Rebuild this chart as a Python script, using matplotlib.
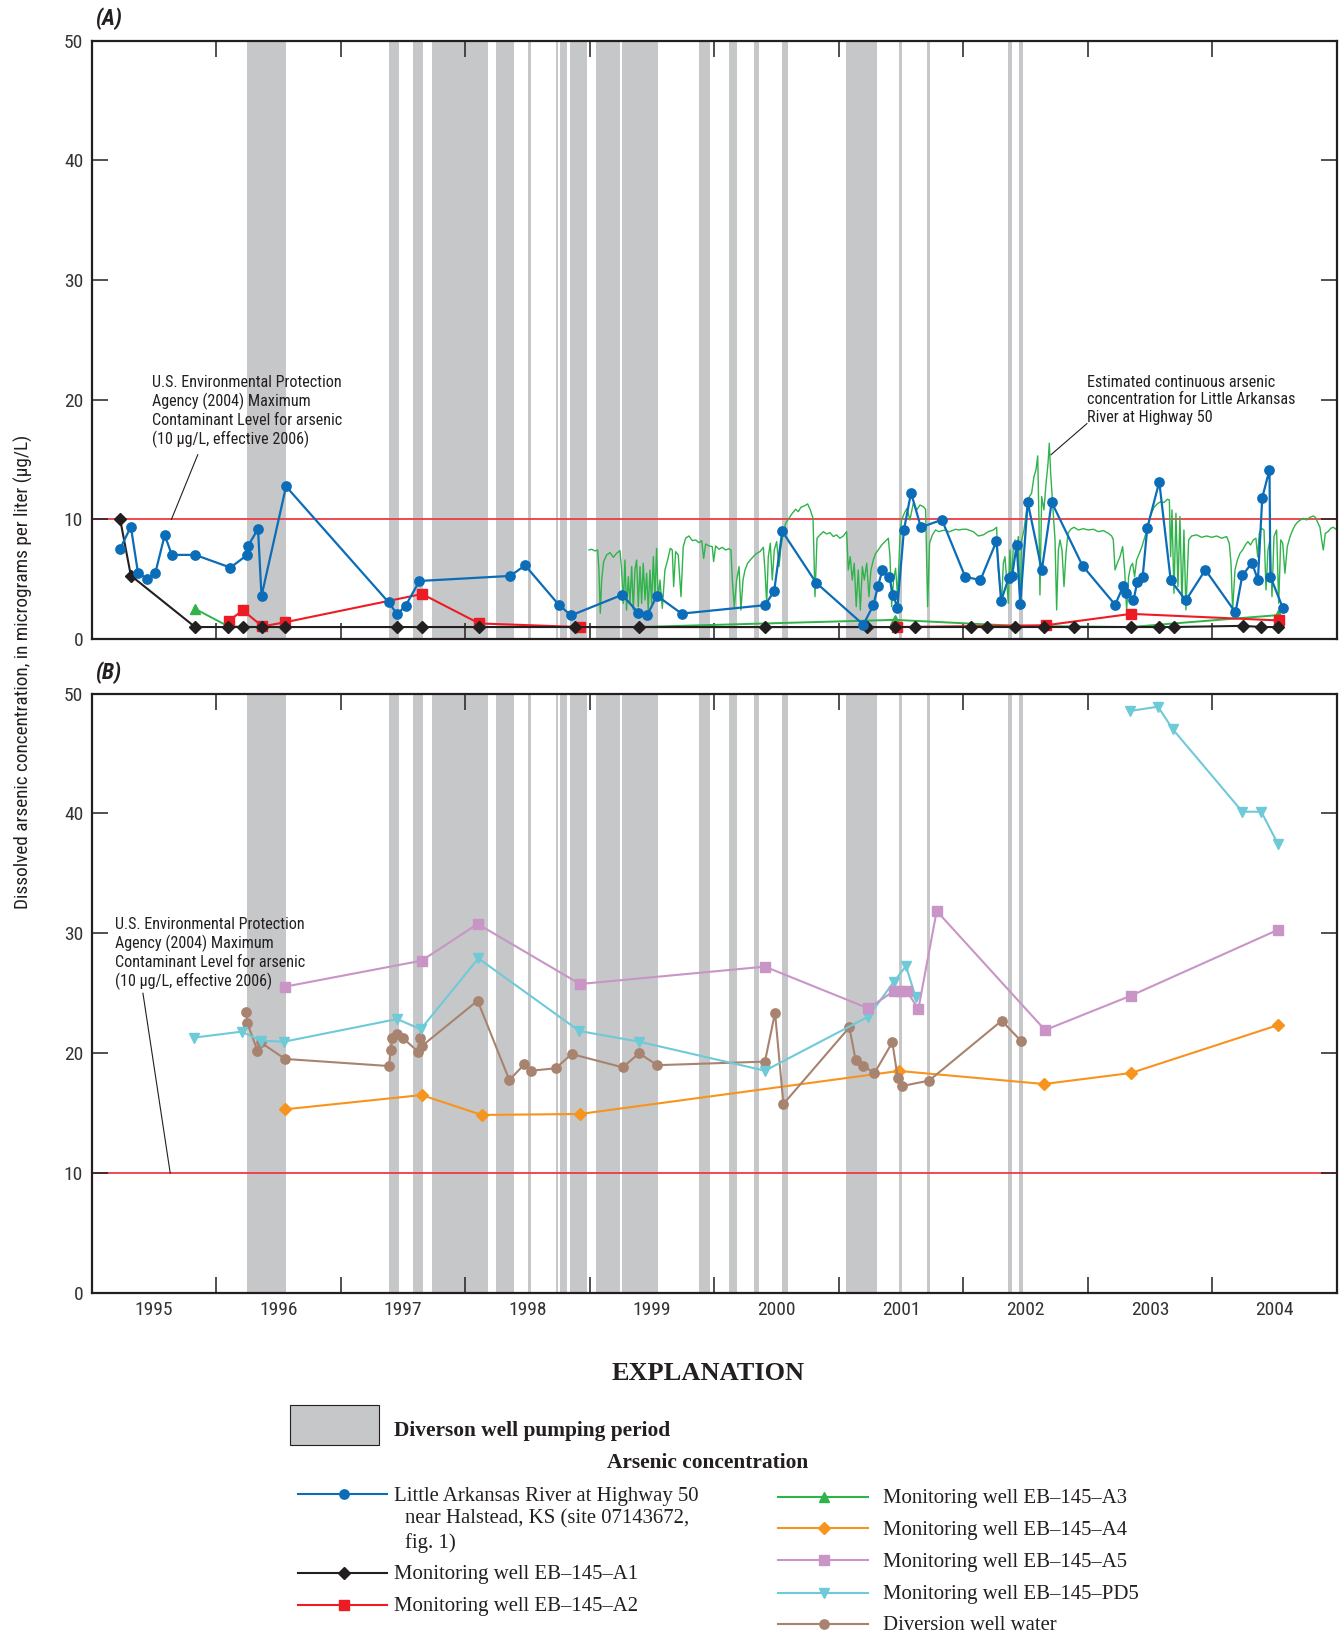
import matplotlib
matplotlib.use("Agg")
import numpy as np
import matplotlib.pyplot as plt
from matplotlib import font_manager
from matplotlib.patches import Rectangle
from matplotlib.lines import Line2D

_installed = {f.name for f in font_manager.fontManager.ttflist}
_narrow = next((n for n in ["Liberation Sans Narrow", "Roboto Condensed", "Roboto"]
                if n in _installed), "DejaVu Sans")
COND = [_narrow, "DejaVu Sans"]
SERIF = ["Liberation Serif", "DejaVu Serif"]
INK = "#231f20"
BAND = "#c6c7c9"
MCL_RED = "#ee3b45"

C_RIVER = "#0b6cb8"
C_A1 = "#231f20"
C_A2 = "#ed1c24"
C_A3 = "#2fb34a"
C_A4 = "#f7941d"
C_A5 = "#c995c6"
C_PD5 = "#6fcad8"
C_DIV = "#a8836f"
C_EST = "#2fb34a"

# diversion well pumping periods, decimal years
pump_start = [1996.246, 1997.390, 1997.585, 1997.730, 1998.245, 1998.505, 1998.729,
              1998.762, 1998.842, 1999.050, 1999.260, 1999.535, 1999.880, 2000.115,
              2000.320, 2000.544, 2001.060, 2001.482, 2001.707, 2002.359, 2002.448]
pump_end = [1996.560, 1997.465, 1997.665, 1998.185, 1998.395, 1998.529, 1998.743,
            1998.818, 1998.976, 1999.243, 1999.530, 1999.545, 1999.968, 2000.183,
            2000.357, 2000.594, 2001.309, 2001.510, 2001.735, 2002.392, 2002.482]

# Little Arkansas River at Highway 50, discrete samples
river_t = [1995.230, 1995.316, 1995.373, 1995.449, 1995.513, 1995.588, 1995.645, 1995.832,
           1996.115, 1996.251, 1996.258, 1996.337, 1996.365, 1996.562, 1997.386, 1997.454,
           1997.522, 1997.633, 1998.360, 1998.482, 1998.750, 1998.850, 1999.262, 1999.388,
           1999.462, 1999.540, 1999.738, 2000.408, 2000.481, 2000.546, 2000.818, 2001.197,
           2001.277, 2001.315, 2001.350, 2001.405, 2001.436, 2001.470, 2001.523, 2001.580,
           2001.659, 2001.828, 2002.015, 2002.137, 2002.266, 2002.303, 2002.363, 2002.392,
           2002.428, 2002.457, 2002.517, 2002.630, 2002.709, 2002.957, 2003.219, 2003.285,
           2003.308, 2003.366, 2003.397, 2003.440, 2003.477, 2003.573, 2003.665, 2003.786,
           2003.943, 2004.185, 2004.240, 2004.318, 2004.365, 2004.400, 2004.458, 2004.465,
           2004.565]
river_v = [7.55, 9.38, 5.55, 4.99, 5.55, 8.68, 7.03, 7.03,
           5.97, 7.03, 7.80, 9.20, 3.58, 12.75, 3.06, 2.07,
           2.78, 4.85, 5.27, 6.15, 2.88, 1.97, 3.70, 2.20,
           2.00, 3.62, 2.12, 2.83, 4.00, 9.00, 4.70, 1.20,
           2.82, 4.42, 5.76, 5.16, 3.70, 2.60, 9.12, 12.23,
           9.34, 9.96, 5.20, 4.92, 8.18, 3.18, 5.08, 5.30,
           7.88, 2.96, 11.43, 5.75, 11.43, 6.12, 2.86, 4.46,
           3.88, 3.22, 4.80, 5.22, 9.30, 13.13, 4.90, 3.22,
           5.78, 2.22, 5.32, 6.36, 4.93, 11.82, 14.14, 5.22,
           2.60]

# estimated continuous concentration, Little Arkansas River at Highway 50
est_t = [1998.994, 1999.016, 1999.042, 1999.064, 1999.074, 1999.085, 1999.096, 1999.112,
         1999.136, 1999.163, 1999.190, 1999.216, 1999.243, 1999.256, 1999.270, 1999.283,
         1999.296, 1999.310, 1999.323, 1999.337, 1999.350, 1999.363, 1999.377, 1999.390,
         1999.404, 1999.417, 1999.430, 1999.444, 1999.457, 1999.470, 1999.484, 1999.497,
         1999.511, 1999.524, 1999.537, 1999.550, 1999.564, 1999.583, 1999.604, 1999.626,
         1999.647, 1999.663, 1999.674, 1999.690, 1999.711, 1999.733, 1999.751, 1999.770,
         1999.797, 1999.824, 1999.851, 1999.877, 1999.899, 1999.915, 1999.931, 1999.958,
         1999.984, 1999.995, 2000.011, 2000.038, 2000.065, 2000.091, 2000.118, 2000.134,
         2000.145, 2000.161, 2000.180, 2000.199, 2000.214, 2000.231, 2000.247, 2000.268,
         2000.289, 2000.313, 2000.340, 2000.367, 2000.394, 2000.407, 2000.421, 2000.434,
         2000.450, 2000.466, 2000.482, 2000.501, 2000.520, 2000.536, 2000.554, 2000.573,
         2000.600, 2000.627, 2000.653, 2000.675, 2000.696, 2000.723, 2000.750, 2000.771,
         2000.793, 2000.809, 2000.825, 2000.849, 2000.876, 2000.902, 2000.929, 2000.956,
         2000.982, 2001.009, 2001.036, 2001.063, 2001.076, 2001.092, 2001.108, 2001.124,
         2001.140, 2001.156, 2001.173, 2001.189, 2001.205, 2001.224, 2001.242, 2001.258,
         2001.277, 2001.296, 2001.317, 2001.344, 2001.371, 2001.398, 2001.411, 2001.424,
         2001.440, 2001.456, 2001.472, 2001.491, 2001.504, 2001.526, 2001.547, 2001.571,
         2001.598, 2001.625, 2001.652, 2001.678, 2001.697, 2001.713, 2001.729, 2001.751,
         2001.777, 2001.804, 2001.831, 2001.858, 2001.885, 2001.911, 2001.938, 2001.965,
         2001.992, 2002.027, 2002.080, 2002.120, 2002.160, 2002.200, 2002.241, 2002.267,
         2002.281, 2002.294, 2002.308, 2002.321, 2002.334, 2002.348, 2002.361, 2002.374,
         2002.388, 2002.401, 2002.415, 2002.428, 2002.441, 2002.455, 2002.468, 2002.487,
         2002.508, 2002.530, 2002.548, 2002.567, 2002.583, 2002.597, 2002.607, 2002.615,
         2002.629, 2002.647, 2002.664, 2002.680, 2002.690, 2002.701, 2002.717, 2002.736,
         2002.749, 2002.763, 2002.776, 2002.792, 2002.808, 2002.824, 2002.840, 2002.862,
         2002.888, 2002.923, 2002.963, 2003.003, 2003.044, 2003.084, 2003.124, 2003.164,
         2003.191, 2003.204, 2003.218, 2003.236, 2003.258, 2003.279, 2003.295, 2003.311,
         2003.327, 2003.343, 2003.359, 2003.375, 2003.391, 2003.413, 2003.434, 2003.458,
         2003.480, 2003.504, 2003.531, 2003.557, 2003.584, 2003.611, 2003.638, 2003.654,
         2003.664, 2003.675, 2003.691, 2003.707, 2003.723, 2003.739, 2003.755, 2003.771,
         2003.787, 2003.809, 2003.833, 2003.873, 2003.913, 2003.954, 2003.994, 2004.034,
         2004.074, 2004.114, 2004.135, 2004.149, 2004.162, 2004.181, 2004.200, 2004.221,
         2004.242, 2004.264, 2004.285, 2004.306, 2004.328, 2004.349, 2004.363, 2004.376,
         2004.395, 2004.414, 2004.430, 2004.446, 2004.462, 2004.478, 2004.494, 2004.515,
         2004.532, 2004.548, 2004.564, 2004.582, 2004.601, 2004.623, 2004.644, 2004.665,
         2004.687, 2004.709, 2004.730, 2004.756, 2004.783, 2004.810, 2004.826, 2004.842,
         2004.863, 2004.877, 2004.890, 2004.906, 2004.928, 2004.949, 2004.970, 2004.992]
est_v = [7.44, 7.50, 7.36, 7.44, 5.77, 2.15, 4.93, 6.47,
         7.02, 7.22, 6.83, 7.16, 7.39, 5.77, 2.98, 6.60,
         2.42, 5.21, 2.98, 6.05, 2.42, 5.77, 6.60, 2.70,
         6.05, 2.98, 6.33, 3.26, 5.49, 2.42, 5.77, 2.98,
         6.88, 3.54, 7.58, 3.26, 4.93, 2.56, 5.77, 6.60,
         7.58, 7.44, 4.38, 7.30, 7.02, 3.54, 7.72, 8.42,
         8.61, 8.22, 8.28, 8.05, 8.22, 6.74, 7.94, 7.78,
         7.72, 6.47, 7.78, 7.50, 7.66, 7.44, 7.55, 7.44,
         4.93, 2.70, 4.93, 6.05, 2.42, 4.93, 5.77, 6.33,
         6.60, 6.88, 7.16, 7.30, 7.66, 5.77, 2.98, 6.88,
         8.00, 4.93, 7.44, 8.14, 6.05, 7.72, 8.84, 9.67,
         10.09, 10.51, 10.84, 10.65, 11.01, 11.12, 11.29, 10.79,
         10.09, 3.54, 8.42, 8.70, 8.97, 8.78, 8.89, 8.56,
         8.70, 8.42, 8.61, 8.97, 5.77, 6.88, 4.93, 6.33,
         2.70, 5.77, 2.42, 6.05, 4.93, 6.33, 3.54, 5.77,
         6.60, 7.16, 7.44, 7.86, 8.14, 8.42, 6.88, 2.70,
         4.93, 5.91, 3.54, 8.56, 9.95, 10.51, 10.92, 9.95,
         11.34, 10.79, 11.20, 11.06, 10.84, 2.70, 8.00, 8.70,
         9.11, 8.97, 9.06, 9.11, 8.95, 9.06, 9.17, 9.11,
         9.17, 9.17, 8.97, 8.61, 8.70, 8.97, 9.11, 9.34,
         5.77, 4.38, 3.26, 6.33, 6.88, 4.93, 2.98, 7.44,
         4.65, 7.72, 8.28, 6.88, 8.56, 2.70, 8.28, 9.11,
         10.79, 11.90, 12.18, 13.57, 14.13, 15.30, 9.95, 3.68,
         11.90, 10.79, 13.01, 14.69, 16.36, 13.85, 11.34, 8.28,
         2.43, 7.44, 8.28, 7.44, 4.38, 7.16, 8.83, 9.17,
         9.34, 9.11, 9.22, 9.11, 9.17, 8.97, 9.06, 8.83,
         8.61, 8.28, 5.77, 6.33, 6.88, 7.72, 5.77, 2.43,
         5.21, 6.05, 6.33, 5.21, 6.60, 7.16, 7.72, 8.56,
         9.39, 10.37, 11.01, 11.29, 11.48, 11.40, 11.68, 11.62,
         6.88, 10.79, 3.82, 10.51, 4.38, 10.23, 2.98, 9.11,
         2.43, 8.28, 8.61, 8.70, 8.50, 8.61, 8.50, 8.61,
         8.42, 8.56, 8.00, 6.33, 2.43, 5.77, 6.60, 7.16,
         7.44, 7.86, 8.14, 7.86, 8.28, 8.42, 6.88, 8.83,
         9.25, 9.11, 4.10, 7.44, 8.28, 3.54, 8.56, 9.11,
         2.98, 8.28, 8.00, 5.49, 7.72, 8.56, 9.11, 9.53,
         9.81, 9.95, 10.09, 9.95, 10.17, 10.28, 10.17, 9.81,
         9.34, 8.28, 7.44, 8.83, 8.97, 9.25, 9.34, 9.17]

# monitoring well EB-145-A1
a1_t = [1995.230, 1995.316, 1995.832, 1996.095, 1996.215, 1996.365, 1996.550, 1997.455,
        1997.650, 1998.110, 1998.885, 1999.393, 2000.411, 2001.230, 2001.450, 2001.612,
        2002.058, 2002.190, 2002.418, 2002.645, 2002.885, 2003.345, 2003.568, 2003.690,
        2004.248, 2004.393, 2004.530]
a1_v = [10.0, 5.3, 1.0, 1.0, 1.0, 1.0, 1.0, 1.0,
        1.0, 1.0, 1.0, 1.0, 1.0, 1.0, 1.0, 1.0,
        1.0, 1.0, 1.0, 1.0, 1.0, 1.0, 1.0, 1.0,
        1.1, 1.0, 1.0]

# monitoring well EB-145-A2
a2_t = [1996.100, 1996.215, 1996.372, 1996.555, 1997.654, 1998.113, 1998.926, 2001.470,
        2002.664, 2003.347, 2004.533]
a2_v = [1.5, 2.4, 1.05, 1.4, 3.76, 1.3, 1.0, 1.0, 1.15, 2.1, 1.55]

# monitoring well EB-145-A3
a3_t = [1995.835, 1996.100, 1996.372, 1996.555, 1997.457, 1997.654, 1998.113, 1998.890,
        1999.395, 2000.412, 2001.450, 2002.420, 2003.347, 2003.690, 2004.530]
a3_v = [2.5, 1.05, 1.0, 1.0, 1.0, 1.0, 1.0, 1.0,
        1.0, 1.3, 1.6, 1.1, 1.0, 1.3, 2.0]
a3_shown = [0, 10, 14]  # samples whose symbol is not covered by other wells

# monitoring well EB-145-A4
a4_t = [1996.554, 1997.651, 1998.133, 1998.922, 2001.483, 2002.648, 2003.346, 2004.528]
a4_v = [15.32, 16.51, 14.85, 14.93, 18.52, 17.43, 18.35, 22.35]

# monitoring well EB-145-A5
a5_t = [1996.554, 1997.651, 1998.100, 1998.922, 2000.407, 2001.237, 2001.443, 2001.491,
        2001.545, 2001.639, 2001.786, 2002.656, 2003.346, 2004.528]
a5_v = [25.55, 27.72, 30.78, 25.77, 27.22, 23.74, 25.19, 25.19,
        25.19, 23.69, 31.86, 21.93, 24.80, 30.30]

# monitoring well EB-145-PD5 (no samples between late 2001 and 2003)
pd5_t = [1995.823, 1996.206, 1996.360, 1996.546, 1997.455, 1997.643, 1998.106, 1998.917,
         1999.398, 2000.407, 2001.237, 2001.443, 2001.540, 2001.617, np.nan, 2003.336,
         2003.563, 2003.683, 2004.240, 2004.392, 2004.526]
pd5_v = [21.30, 21.80, 21.04, 20.96, 22.85, 21.99, 27.91, 21.85,
         20.96, 18.54, 23.05, 25.97, 27.27, 24.66, np.nan, 48.54,
         48.90, 47.00, 40.14, 40.14, 37.45]

# diversion well water
div_t = [1996.244, 1996.250, 1996.332, 1996.358, 1996.554, 1997.388, 1997.402, 1997.415,
         1997.453, 1997.498, 1997.621, 1997.637, 1997.656, 1998.100, 1998.355, 1998.475,
         1998.526, 1998.727, 1998.855, 1999.265, 1999.396, 1999.543, 2000.407, 2000.488,
         2000.555, 2001.085, 2001.135, 2001.197, 2001.285, 2001.430, 2001.473, 2001.505,
         2001.724, 2002.308, 2002.463]
div_v = [23.44, 22.55, 20.21, 20.90, 19.52, 18.93, 20.27, 21.24,
         21.60, 21.29, 20.13, 21.24, 20.63, 24.38, 17.76, 19.07,
         18.54, 18.74, 19.93, 18.82, 19.99, 19.00, 19.30, 23.38,
         15.76, 22.16, 19.43, 18.96, 18.32, 20.91, 17.96, 17.26,
         17.71, 22.71, 21.02]

years = list(range(1995, 2005))
MCL = 10.0

mcl_note = ("U.S. Environmental Protection\nAgency (2004) Maximum\n"
            "Contaminant Level for arsenic\n(10 \u00b5g/L, effective 2006)")

W, H = 1343, 1638
fig = plt.figure(figsize=(W / 100, H / 100), dpi=100)

TICK_FS = 14
NOTE_FS = 11.6
NOTE_LS = 1.23


def frame(ax, show_xlabels):
    ax.set_xlim(1995, 2005)
    ax.set_ylim(0, 50)
    for s, e in zip(pump_start, pump_end):
        ax.axvspan(s, e, color=BAND, lw=0, zorder=0)
    ax.axhline(MCL, color=MCL_RED, lw=1.3, zorder=1)
    for sp in ax.spines.values():
        sp.set_color(INK)
        sp.set_linewidth(1.6)
    ax.set_xticks(range(1996, 2005))
    ax.set_xticklabels([])
    ax.set_xticks([y + 0.5 for y in years], minor=True)
    if show_xlabels:
        ax.set_xticklabels([str(y) for y in years], minor=True)
    else:
        ax.set_xticklabels([], minor=True)
    ax.set_yticks(range(0, 51, 10))
    ax.set_yticklabels([str(v) for v in range(0, 51, 10)])
    ax.tick_params(which="major", direction="in", length=11.5, width=1.1,
                   top=True, right=True, color=INK, labelcolor="#333333",
                   labelsize=TICK_FS, pad=6)
    ax.tick_params(which="minor", length=0, pad=6, labelsize=TICK_FS,
                   labelcolor="#333333")
    for lab in ax.get_xticklabels(minor=True) + ax.get_yticklabels():
        lab.set_family(COND)


def series(ax, t, v, color, marker, ms, lw=1.5, z=4, every=None):
    ax.plot(t, v, color=color, lw=lw, marker=marker, ms=ms, mec=color, mfc=color,
            zorder=z, clip_on=False, markevery=every)


# panel A: river and shallow monitoring wells
ax_a = fig.add_axes([91.5 / W, 1 - 639 / H, (1337 - 91.5) / W, (639 - 40.7) / H])
frame(ax_a, False)
ax_a.plot(est_t, est_v, color=C_EST, lw=1.0, zorder=2)
series(ax_a, a3_t, a3_v, C_A3, "^", 6.5, lw=1.4, z=3, every=a3_shown)
series(ax_a, a2_t, a2_v, C_A2, "s", 6.8, lw=1.5, z=4)
series(ax_a, a1_t, a1_v, C_A1, "D", 6.4, lw=1.5, z=5)
series(ax_a, river_t, river_v, C_RIVER, "o", 6.7, lw=1.6, z=6)

ax_a.text(1995.488, 22.1, mcl_note, family=COND, fontsize=NOTE_FS, color=INK,
          va="top", ha="left", linespacing=NOTE_LS, zorder=7)
ax_a.plot([1995.853, 1995.642], [15.4, MCL], color=INK, lw=0.8, zorder=7)
ax_a.text(2002.995, 22.1,
          "Estimated continuous arsenic\nconcentration for Little Arkansas\nRiver at Highway 50",
          family=COND, fontsize=NOTE_FS, color=INK, va="top", ha="left",
          linespacing=NOTE_LS, zorder=7)
ax_a.plot([2002.992, 2002.704], [18.0, 15.4], color=INK, lw=0.8, zorder=7)

# panel B: deeper wells and diversion well water
ax_b = fig.add_axes([91.5 / W, 1 - 1293 / H, (1337 - 91.5) / W, (1293 - 693.5) / H])
frame(ax_b, True)
series(ax_b, a4_t, a4_v, C_A4, "D", 6.4, lw=1.5, z=3)
series(ax_b, div_t, div_v, C_DIV, "o", 6.7, lw=1.5, z=4)
series(ax_b, pd5_t, pd5_v, C_PD5, "v", 7.2, lw=1.5, z=5)
series(ax_b, a5_t, a5_v, C_A5, "s", 7.0, lw=1.5, z=6)

ax_b.text(1995.19, 31.4, mcl_note, family=COND, fontsize=NOTE_FS, color=INK,
          va="top", ha="left", linespacing=NOTE_LS, zorder=7)
ax_b.plot([1995.413, 1995.632], [25.0, MCL], color=INK, lw=0.8, zorder=7)

fig.text(96 / W, 1 - 19 / H, "(A)", family=COND, fontsize=16, fontweight="bold",
         style="italic", color=INK, va="center", ha="left")
fig.text(96 / W, 1 - 673 / H, "(B)", family=COND, fontsize=16, fontweight="bold",
         style="italic", color=INK, va="center", ha="left")
fig.text(23 / W, 1 - 672 / H,
         "Dissolved arsenic concentration, in micrograms per liter (\u00b5g/L)",
         family=COND, fontsize=13.9, color=INK, rotation=90, va="center", ha="center")

# explanation block, laid out in pixel units
ax_k = fig.add_axes([0, 0, 1, 1 - 1330 / H])
ax_k.set_xlim(0, W)
ax_k.set_ylim(H, 1330)
ax_k.axis("off")

KEY_BOLD = 15.4
KEY_FS = 14.95
ax_k.text(708, 1373, "EXPLANATION", family=SERIF, fontsize=19, fontweight="bold",
          color=INK, ha="center", va="center")
ax_k.add_patch(Rectangle((290, 1405), 89, 40, facecolor=BAND, edgecolor=INK, lw=0.8))
ax_k.text(394, 1431, "Diverson well pumping period", family=SERIF, fontsize=KEY_BOLD,
          fontweight="bold", color=INK, ha="left", va="center")
ax_k.text(708, 1463, "Arsenic concentration", family=SERIF, fontsize=KEY_BOLD,
          fontweight="bold", color=INK, ha="center", va="center")

key_left = [(1494, C_RIVER, "o", 6.7, "Little Arkansas River at Highway 50"),
            (1573, C_A1, "D", 6.4, "Monitoring well EB\u2013145\u2013A1"),
            (1605, C_A2, "s", 6.8, "Monitoring well EB\u2013145\u2013A2")]
for y, c, m, ms, txt in key_left:
    ax_k.add_line(Line2D([298, 387], [y, y], color=c, lw=1.5))
    ax_k.add_line(Line2D([344], [y], color=c, marker=m, ms=ms, mec=c, mfc=c))
    ax_k.text(394, y + 2, txt, family=SERIF, fontsize=KEY_FS, color=INK,
              ha="left", va="center")
ax_k.text(405, 1519, "near Halstead, KS (site 07143672,", family=SERIF, fontsize=KEY_FS,
          color=INK, ha="left", va="center")
ax_k.text(405, 1543, "fig. 1)", family=SERIF, fontsize=KEY_FS, color=INK,
          ha="left", va="center")

key_right = [(1497, C_A3, "^", 6.5, "Monitoring well EB\u2013145\u2013A3"),
             (1528, C_A4, "D", 6.4, "Monitoring well EB\u2013145\u2013A4"),
             (1560, C_A5, "s", 7.0, "Monitoring well EB\u2013145\u2013A5"),
             (1593, C_PD5, "v", 7.2, "Monitoring well EB\u2013145\u2013PD5"),
             (1624, C_DIV, "o", 6.7, "Diversion well water")]
for y, c, m, ms, txt in key_right:
    ax_k.add_line(Line2D([778, 868], [y, y], color=c, lw=1.5))
    ax_k.add_line(Line2D([824], [y], color=c, marker=m, ms=ms, mec=c, mfc=c))
    ax_k.text(883, y + 2, txt, family=SERIF, fontsize=KEY_FS, color=INK,
              ha="left", va="center")

fig.savefig("out.png", dpi=100, facecolor="white")
